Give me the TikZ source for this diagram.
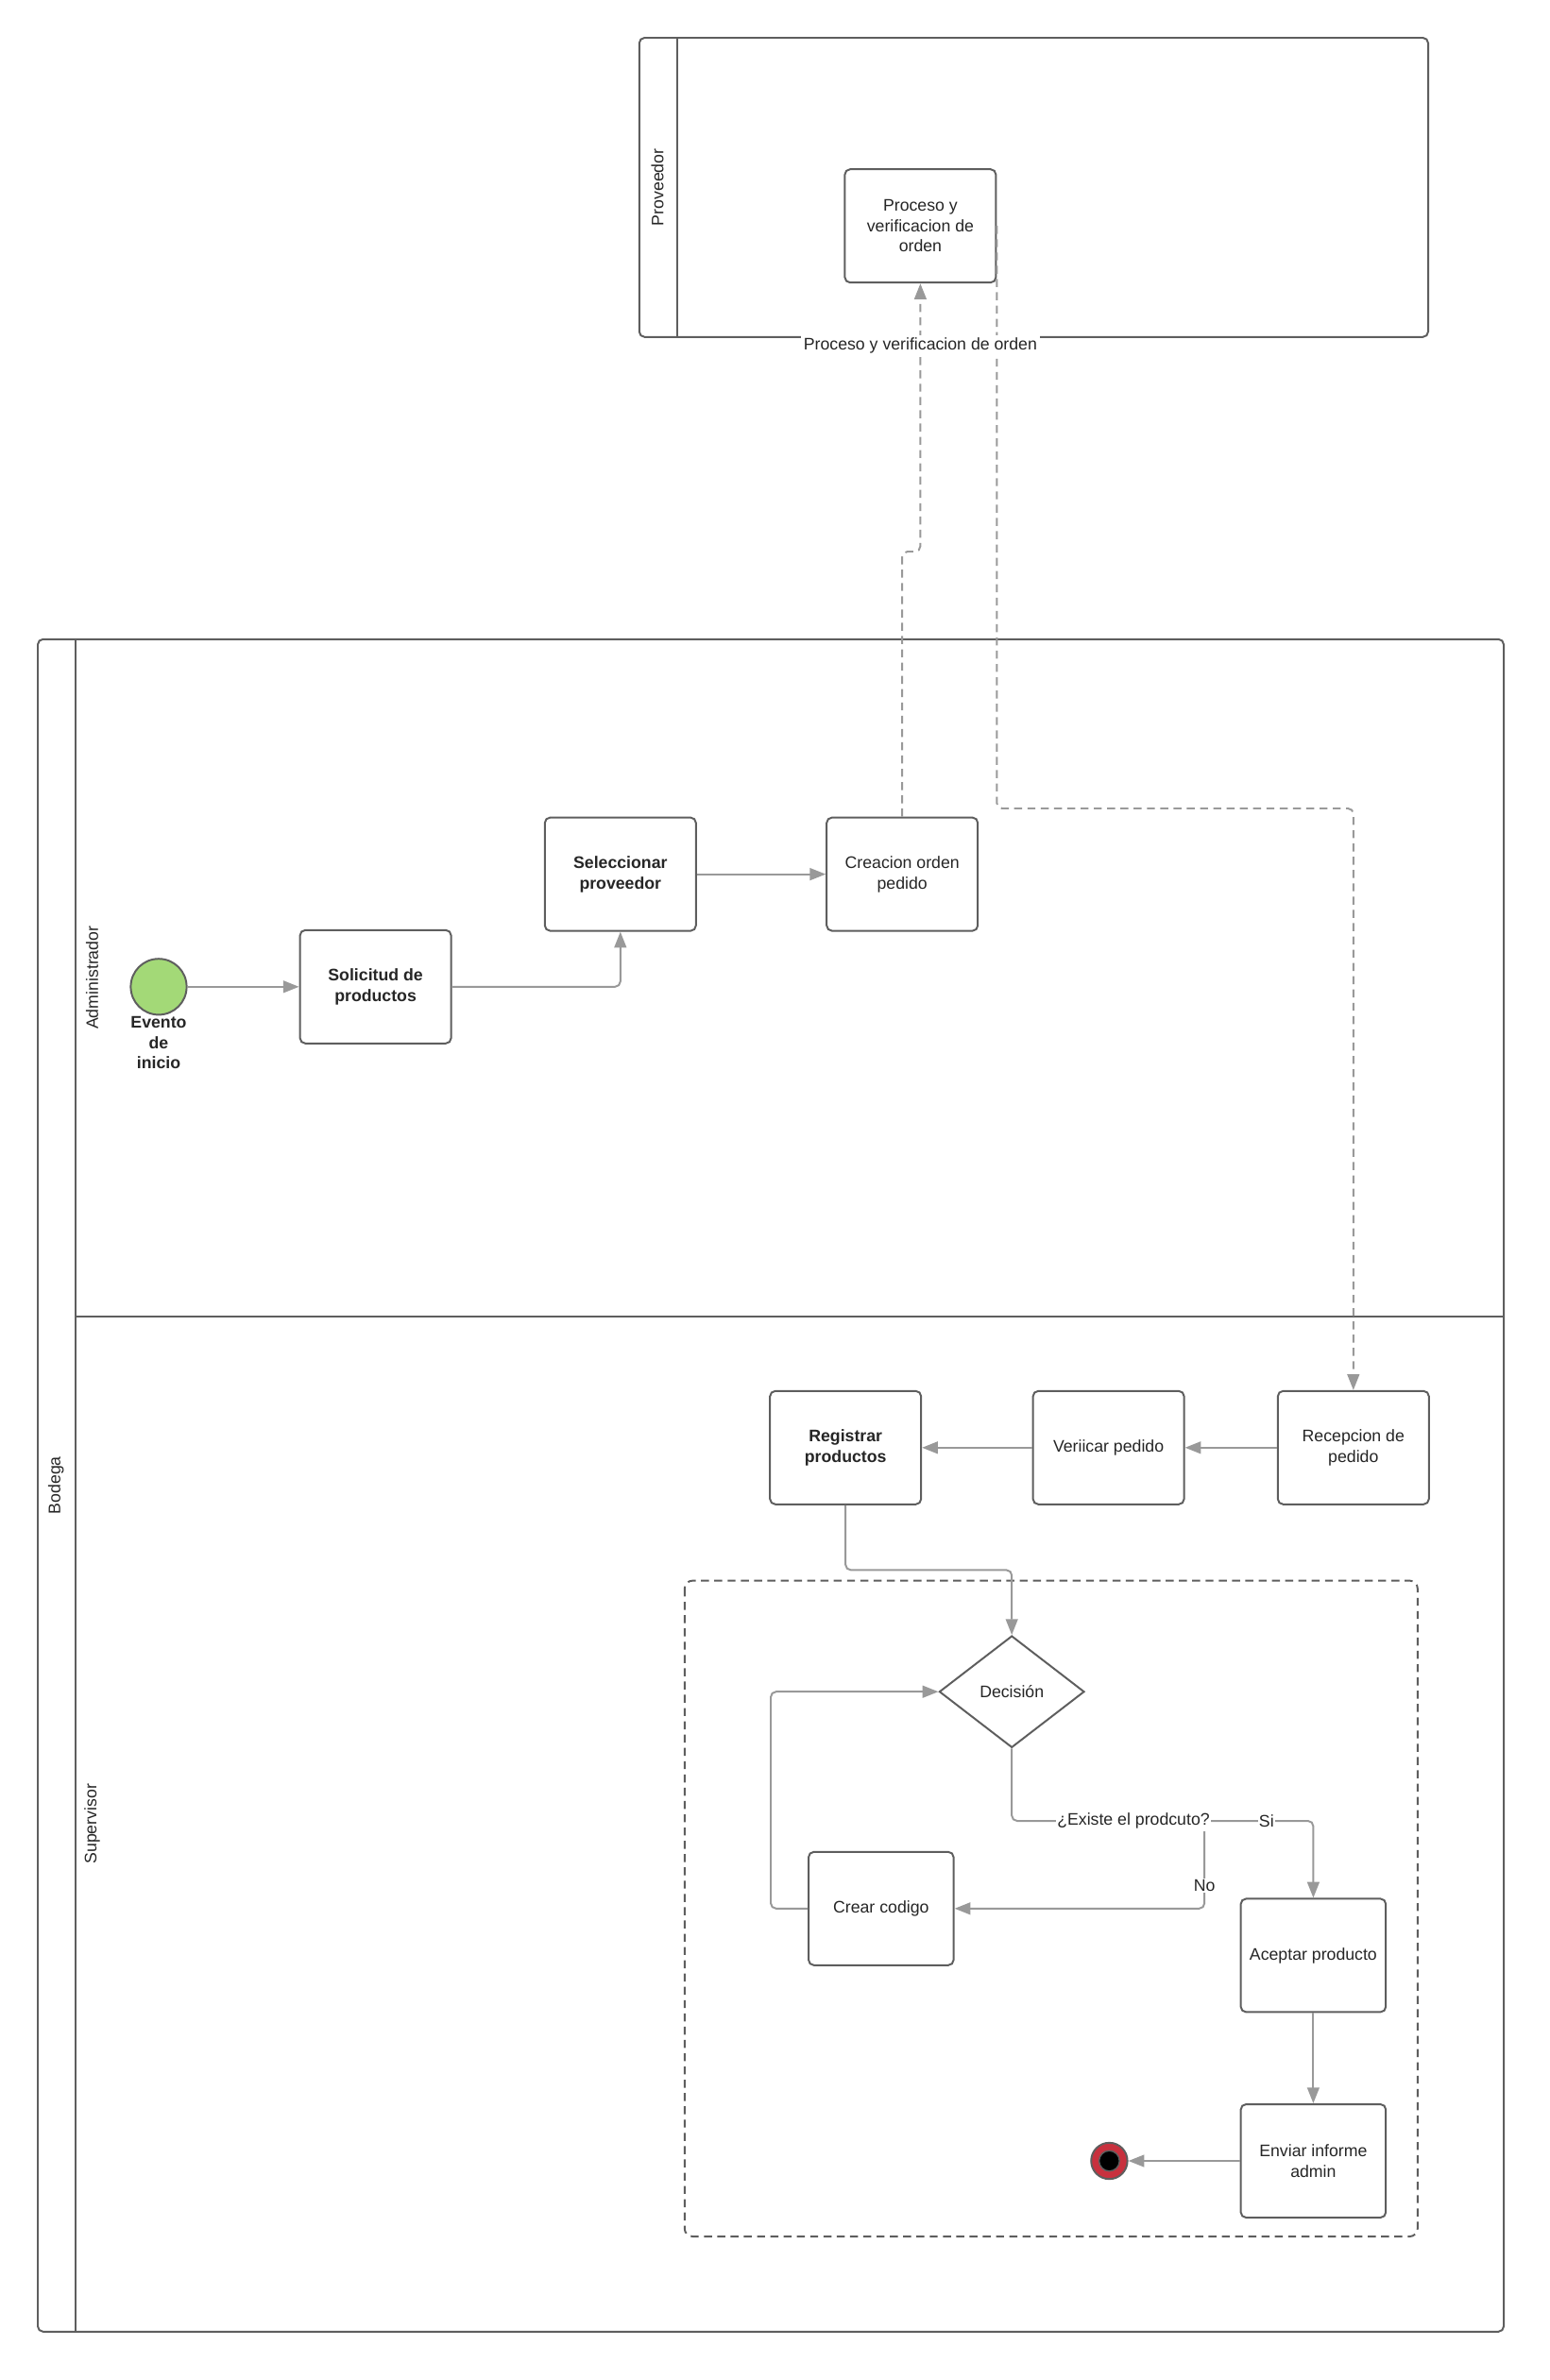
\documentclass[tikz,border=0pt]{standalone}
\usepackage{fontspec}
\setmainfont{Liberation Sans}
\usetikzlibrary{arrows.meta,shapes.geometric}
\definecolor{borde}{HTML}{5E5E5E}
\definecolor{flecha}{HTML}{999999}
\definecolor{texto}{HTML}{262626}
\definecolor{verde}{HTML}{A3D977}
\definecolor{rojo}{HTML}{C8313E}
\newcommand{\fuente}{\fontsize{6.3}{7.7}\selectfont}

\begin{document}
\begin{tikzpicture}[x=0.02cm,y=-0.02cm]

\tikzset{tarea/.style={draw=borde,line width=0.7pt,rounded corners=2pt,fill=white,minimum width=2cm,minimum height=1.5cm,align=center,inner sep=1pt,text=texto,font=\fuente}, %actividad
	flujo/.style={draw=flecha,line width=0.7pt,rounded corners=2pt,-{Triangle[length=0.21cm,width=0.16cm]}},
	mensaje/.style={flujo,dashed,dash pattern=on 3pt off 2pt},
	carril/.style={font=\fuente,text=texto,rotate=90},
	etiqueta/.style={font=\fuente,text=texto,fill=white,inner sep=0.5pt}}
\useasboundingbox (0,0) rectangle (1025,1575);

%----------pool Proveedor------------
	\draw[borde,line width=0.7pt,rounded corners=2pt] (423,25) rectangle (945,223);
	\draw[borde,line width=0.7pt] (448,25) -- (448,223);
	\node[carril] (proveedor) at (435,124) {Proveedor};

	\node[tarea] (proceso) at (609,149.5) {Proceso y\\verificacion de\\orden};

%----------pool Bodega------------
	\draw[borde,line width=0.7pt,rounded corners=2pt] (25,423) rectangle (995,1543);
	\draw[borde,line width=0.7pt] (50,423) -- (50,1543);
	\draw[borde,line width=0.7pt] (50,871) -- (995,871);
	\node[carril] (bodega) at (37,983) {Bodega};
	\node[carril] (admin) at (61,647) {Administrador};
	\node[carril] (supervisor) at (61,1207) {Supervisor};

%----------carril Administrador------------
	\node[circle,draw=borde,line width=0.7pt,fill=verde,minimum size=0.74cm,inner sep=0] (inicio) at (105,653) {};
	\node[font=\fuente\bfseries,text=texto,align=center,inner sep=0] (evento) at (105,690) {Evento\\de\\inicio};

	\node[tarea,font=\fuente\bfseries] (solicitud) at (248.5,653) {Solicitud de\\productos};
	\node[tarea,font=\fuente\bfseries] (seleccionar) at (410.5,578.5) {Seleccionar\\proveedor};
	\node[tarea] (creacion) at (597,578.5) {Creacion orden\\pedido};

	\draw[flujo] (inicio) -- (solicitud);
	\draw[flujo] (solicitud.east) -| (seleccionar.south);
	\draw[flujo] (seleccionar) -- (creacion);

%----------carril Supervisor------------
	\node[tarea,font=\fuente\bfseries] (registrar) at (559.5,958) {Registrar\\productos};
	\node[tarea] (verificar) at (733.5,958) {Veriicar pedido};
	\node[tarea] (recepcion) at (895.5,958) {Recepcion de\\pedido};

	\draw[flujo] (recepcion) -- (verificar);
	\draw[flujo] (verificar) -- (registrar);

	%subproceso
	\draw[borde,line width=0.7pt,dashed,dash pattern=on 3pt off 2pt,rounded corners=3pt] (453,1046) rectangle (938,1480);

	\node[diamond,draw=borde,line width=0.7pt,fill=white,minimum width=1.92cm,minimum height=1.48cm,inner sep=0,font=\fuente,text=texto] (decision) at (669.5,1119.5) {Decisión};
	\node[tarea,minimum width=1.92cm] (crear) at (583,1263) {Crear codigo};
	\node[tarea,minimum width=1.92cm] (aceptar) at (869,1294) {Aceptar producto};
	\node[tarea,minimum width=1.92cm] (enviar) at (869,1430) {Enviar informe\\admin};

	\node[circle,draw=borde,line width=0.7pt,fill=rojo,minimum size=0.48cm,inner sep=0] (fin) at (734,1430) {};
	\node[circle,draw=borde,line width=0.5pt,fill=black,minimum size=0.27cm,inner sep=0] (fincentro) at (734,1430) {};

	\coordinate (codo3) at (669.5,1039);
	\coordinate (codo4) at (869,1205);
	\coordinate (desvio) at (797,1212);
	\coordinate (codo5) at (510,1119.5);

	\draw[flujo] (registrar.south) |- (codo3) -- (decision.north);
	\draw[flujo] (decision.south) |- (codo4) -- (aceptar.north);
	\draw[flujo] (desvio) |- (crear.east);
	\draw[flujo] (crear.west) -| (codo5) -- (decision.west);
	\draw[flujo] (aceptar) -- (enviar);
	\draw[flujo] (enviar) -- (fin);

	\node[etiqueta] (existe) at (750,1205) {¿Existe el prodcuto?};
	\node[etiqueta] (si) at (838,1205) {Si};
	\node[etiqueta] (no) at (797,1248) {No};

%----------mensajes entre pools------------
	\coordinate (codo1) at (609,365);
	\coordinate (codo2) at (895.5,535);
	\draw[mensaje] (creacion.north) |- (codo1) -- (proceso.south);
	\draw[mensaje] (proceso.east) |- (codo2) -- (recepcion.north);

	\node[etiqueta,inner sep=1pt] (orden) at (609,229) {Proceso y verificacion de orden};

\end{tikzpicture}
\end{document}
